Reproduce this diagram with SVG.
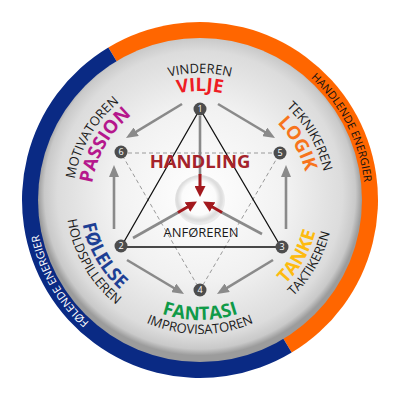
<svg xmlns="http://www.w3.org/2000/svg" width="400" height="400" viewBox="0 0 400 400">
<defs>
<style>
.cap{font-family:"Open Sans","DejaVu Sans",sans-serif;font-size:13px;fill:#1a1a1a;text-anchor:middle}
.name{font-family:"Open Sans","DejaVu Sans",sans-serif;font-size:18.5px;font-weight:bold;text-anchor:middle}
.ring{font-family:"Open Sans","DejaVu Sans",sans-serif;font-size:11px;text-anchor:middle}
.g{stroke:#8a8a8a;stroke-width:2.6;fill:none}
.r{stroke:#a3191e;stroke-width:3;fill:none}
.nc{fill:#4d4d4d}
.nt{font-family:"Open Sans","DejaVu Sans",sans-serif;font-size:9px;fill:#fff;text-anchor:middle}
</style>
<radialGradient id="disc" cx="50%" cy="48%" r="50%">
<stop offset="0" stop-color="#ffffff"/>
<stop offset="0.55" stop-color="#f1f1f1"/>
<stop offset="0.88" stop-color="#dcdcdc"/>
<stop offset="0.96" stop-color="#c9c9c9"/>
<stop offset="1" stop-color="#9c9c9c"/>
</radialGradient>
<radialGradient id="hub" cx="48%" cy="46%" r="50%">
<stop offset="0" stop-color="#ffffff"/>
<stop offset="0.68" stop-color="#fbfbfb"/>
<stop offset="0.86" stop-color="#dedede"/>
<stop offset="1" stop-color="#c4c4c4" stop-opacity="0.3"/>
</radialGradient>
<marker id="ag" markerUnits="userSpaceOnUse" markerWidth="12" markerHeight="10" refX="8" refY="5" orient="auto">
<path d="M0,0 L12,5 L0,10 Z" fill="#8a8a8a"/>
</marker>
<marker id="ar" markerUnits="userSpaceOnUse" markerWidth="11" markerHeight="11" refX="7" refY="5.5" orient="auto">
<path d="M0,0 L11,5.5 L0,11 Z" fill="#a3191e"/>
</marker>
<path id="tn0" d="M97.57,162.72 A109,109 0 0 1 302.43,162.72"/>
<path id="tn60" d="M181.08,92.66 A109,109 0 0 1 283.49,270.07"/>
<path id="tn300" d="M116.51,270.07 A109,109 0 0 1 218.92,92.66"/>
<path id="tc0" d="M80.66,156.57 A127,127 0 0 1 319.34,156.57"/>
<path id="tc60" d="M177.95,74.93 A127,127 0 0 1 297.28,281.64"/>
<path id="tc300" d="M102.72,281.64 A127,127 0 0 1 222.05,74.93"/>
<path id="bn180" d="M87.24,241.04 A120,120 0 0 0 312.76,241.04"/>
<path id="bn120" d="M179.17,318.18 A120,120 0 0 0 291.92,122.86"/>
<path id="bn240" d="M108.08,122.86 A120,120 0 0 0 220.83,318.18"/>
<path id="bc180" d="M74.08,245.83 A134,134 0 0 0 325.92,245.83"/>
<path id="bc120" d="M176.74,331.96 A134,134 0 0 0 302.64,113.87"/>
<path id="bc240" d="M97.36,113.87 A134,134 0 0 0 223.26,331.96"/>
<path id="rh" d="M151.75,42.21 A165,165 0 0 1 299.30,331.77"/>
<path id="rf" d="M256.43,355.05 A165,165 0 0 1 93.94,73.61"/>
</defs>

<g id="outer-ring">
<path d="M200,200 L108.33,47.42 A178,178 0 0 1 291.67,352.58 Z" fill="#ff6600"/>
<path d="M200,200 L291.67,352.58 A178,178 0 0 1 108.33,47.42 Z" fill="#0a2a84"/>
<text class="ring" fill="#111"><textPath href="#rh" startOffset="50%">HANDLENDE ENERGIER</textPath></text>
<text class="ring" fill="#ffffff"><textPath href="#rf" startOffset="50%">FØLENDE ENERGIER</textPath></text>
</g>

<g id="disc-bg">
<circle cx="200" cy="200" r="162" fill="url(#disc)"/>
</g>

<g id="connectors">
<g stroke="#9a9a9a" stroke-width="1" stroke-dasharray="4,3" fill="none">
<path d="M121,153 L280,153 L200,290 Z"/>
</g>
<path d="M200,109 L121,247 L281,247 Z" stroke="#111" stroke-width="1.3" fill="none"/>
<line class="g" x1="182" y1="104" x2="129.4" y2="135.9" marker-end="url(#ag)"/>
<line class="g" x1="218" y1="104" x2="271.6" y2="136" marker-end="url(#ag)"/>
<line class="g" x1="114" y1="229" x2="114" y2="169" marker-end="url(#ag)"/>
<line class="g" x1="286" y1="229" x2="286" y2="169" marker-end="url(#ag)"/>
<line class="g" x1="127" y1="260" x2="180.6" y2="292" marker-end="url(#ag)"/>
<line class="g" x1="273" y1="260" x2="220.4" y2="291.9" marker-end="url(#ag)"/>
<line class="g" x1="200" y1="116" x2="200" y2="176"/>
<line class="g" x1="133" y1="238" x2="179" y2="212"/>
<line class="g" x1="262" y1="234" x2="221" y2="212"/>
</g>

<g id="center">
<circle cx="200" cy="200" r="25" fill="url(#hub)"/>
<text x="200" y="168" class="name" fill="#a5232b" font-size="18">HANDLING</text>
<text x="201" y="237" class="cap">ANFØREREN</text>
</g>

<g id="red-arrows">
<line class="r" x1="200" y1="174" x2="200" y2="193" marker-end="url(#ar)"/>
<line class="r" x1="178" y1="212.5" x2="193.5" y2="203.5" marker-end="url(#ar)"/>
<line class="r" x1="222" y1="212.5" x2="206.5" y2="203.5" marker-end="url(#ar)"/>
</g>

<g id="n1"><circle class="nc" cx="200" cy="109" r="6.5"/><text class="nt" x="200" y="112.2">1</text></g>
<g id="n2"><circle class="nc" cx="121" cy="246" r="6.5"/><text class="nt" x="121" y="249.2">2</text></g>
<g id="n3"><circle class="nc" cx="282" cy="247" r="6.5"/><text class="nt" x="282" y="250.2">3</text></g>
<g id="n4"><circle class="nc" cx="200" cy="290" r="6.5"/><text class="nt" x="200" y="293.2">4</text></g>
<g id="n5"><circle class="nc" cx="280" cy="153" r="6.5"/><text class="nt" x="280" y="156.2">5</text></g>
<g id="n6"><circle class="nc" cx="121" cy="152" r="6.5"/><text class="nt" x="121" y="155.2">6</text></g>

<g id="label-vilje">
<text class="cap"><textPath href="#tc0" startOffset="50%">VINDEREN</textPath></text>
<text class="name" fill="#ee1c24"><textPath href="#tn0" startOffset="50%">VILJE</textPath></text>
</g>
<g id="label-logik">
<text class="cap"><textPath href="#tc60" startOffset="50%">TEKNIKEREN</textPath></text>
<text class="name" fill="#f7741c"><textPath href="#tn60" startOffset="50%">LOGIK</textPath></text>
</g>
<g id="label-passion">
<text class="cap"><textPath href="#tc300" startOffset="50%">MOTIVATOREN</textPath></text>
<text class="name" fill="#b5178c"><textPath href="#tn300" startOffset="50%">PASSION</textPath></text>
</g>
<g id="label-tanke">
<text class="name" fill="#fdbb10"><textPath href="#bn120" startOffset="50%">TANKE</textPath></text>
<text class="cap"><textPath href="#bc120" startOffset="50%">TAKTIKEREN</textPath></text>
</g>
<g id="label-fantasi">
<text class="name" fill="#0f9a48"><textPath href="#bn180" startOffset="50%">FANTASI</textPath></text>
<text class="cap"><textPath href="#bc180" startOffset="50%">IMPROVISATOREN</textPath></text>
</g>
<g id="label-folelse">
<text class="name" fill="#1d3f94"><textPath href="#bn240" startOffset="50%">FØLELSE</textPath></text>
<text class="cap"><textPath href="#bc240" startOffset="50%">HOLDSPILLEREN</textPath></text>
</g>
</svg>
